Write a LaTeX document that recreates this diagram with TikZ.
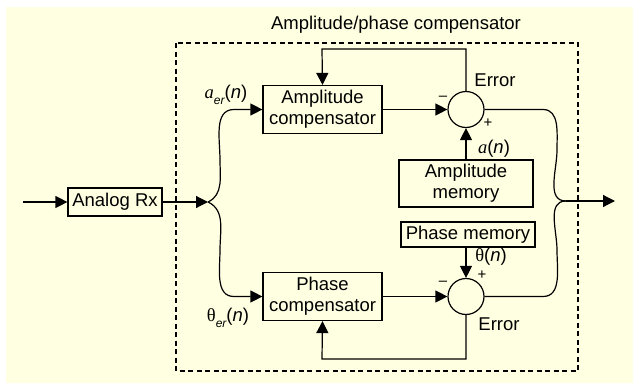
\documentclass[tikz,border=0pt]{standalone}
\usepackage{fontspec}
\setmainfont{Liberation Sans}
\newfontfamily\serifff{Liberation Serif}
\usetikzlibrary{arrows.meta,calc}
\definecolor{bgyellow}{RGB}{255,255,226}
\begin{document}
\begin{tikzpicture}[x=1pt,y=-1pt,
  font=\fontsize{18.5}{21}\selectfont,
  line width=1.2pt,
  >={Triangle[length=12pt,width=12pt]},
  blk/.style={draw,rectangle,inner sep=0pt,align=center},
  summer/.style={draw,circle,minimum size=36pt,inner sep=0pt},
  lbl/.style={inner sep=0pt},
  sgn/.style={inner sep=0pt,font=\fontsize{15}{15}\selectfont},
  frame/.style={draw,dashed,line width=2pt,dash pattern=on 5pt off 3.5pt}]
\useasboundingbox (0,0) rectangle (633,383);
\fill[bgyellow] (6,7) rectangle (633,383);
\draw[frame] (176,43) rectangle (578,371);
\node[lbl] (title) at (396,25) {Amplitude/phase compensator};

\node[blk,minimum width=94pt,minimum height=28pt] (rx) at (115,202) {Analog Rx};
\coordinate (in) at (23,202);
\coordinate (split) at (208,202);
\node[blk,minimum width=119pt,minimum height=48pt] (ampc) at (322.5,109.5) {Amplitude\\compensator};
\node[blk,minimum width=119pt,minimum height=48pt] (phc) at (322.5,296.5) {Phase\\compensator};
\node[summer] (sum1) at (466,109.5) {};
\node[summer] (sum2) at (466,296.5) {};
\node[blk,minimum width=134pt,minimum height=47pt] (ampm) at (466,183.5) {Amplitude\\memory};
\node[blk,minimum width=134pt,minimum height=25pt] (phm) at (468,234.5) {Phase memory};
\coordinate (join) at (566,201);
\coordinate (out) at (615,201);
\coordinate (fb1) at (322,49);
\coordinate (fb2) at (322,359);

% input / output
\draw[->] (in) -- (rx.west);
\draw[->] (rx.east) -- (split);
\draw[->] (join) -- (out);

% branches
\draw[->] (split) to[out=25,in=-90] (220,160) to[out=90,in=180] (234,109.5) -- (ampc.west);
\draw[->] (split) to[out=-25,in=90] (220,250) to[out=-90,in=180] (234,296.5) -- (phc.west);

% into summers
\draw[->] (ampc.east) -- (sum1.west);
\draw[->] (phc.east) -- (sum2.west);
\draw[->] (ampm.north) -- (sum1.south);
\draw[->] (phm.south -| sum2.north) -- (sum2.north);

% feedback
\draw[->] (sum1.north) |- (fb1) -- (ampc.north);
\draw[->] (sum2.south) |- (fb2) -- (phc.south);

% outputs to join
\draw (sum1.east) -- (543,109.5) to[out=0,in=90] (557,150) to[out=-90,in=180] (join);
\draw (sum2.east) -- (543,296.5) to[out=0,in=-90] (557,250) to[out=90,in=180] (join);

% labels
\node[lbl] (laer) at (226,95) {{\serifff\itshape a}\raisebox{-0.3em}{\fontsize{12}{12}\selectfont\itshape er}(\textit{n})};
\node[lbl] (lther) at (228,318) {{\serifff θ}\raisebox{-0.3em}{\fontsize{12}{12}\selectfont\itshape er}(\textit{n})};
\node[lbl] (lan) at (494,149) {{\serifff\itshape a}(\textit{n})};
\node[lbl] (lthn) at (491,257) {{\serifff θ}(\textit{n})};
\node[lbl] (err1) at (495,80) {Error};
\node[lbl] (err2) at (499,324) {Error};
\node[sgn] (m1) at (443,98) {–};
\node[sgn] (p1) at (488,123) {+};
\node[sgn] (m2) at (443,283) {–};
\node[sgn] (p2) at (482,275) {+};
\end{tikzpicture}
\end{document}
